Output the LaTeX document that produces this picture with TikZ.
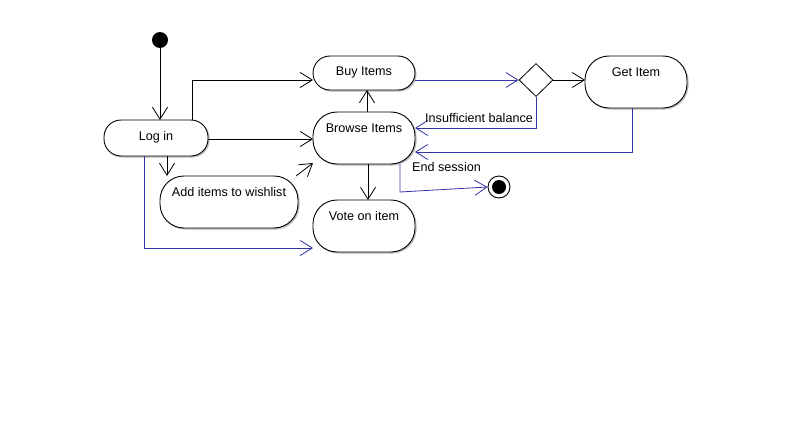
\documentclass[tikz,border=0pt]{standalone}
\usepackage{fontspec}
\setmainfont{Liberation Sans}
\usetikzlibrary{arrows.meta,shapes.geometric,calc}
\definecolor{flowblue}{RGB}{51,51,170}
\tikzset{
  act/.style={draw=black, fill=white, rounded corners=#1, line width=0.9pt,
    preaction={draw=black!25, fill=black!25, transform canvas={shift={(1.3pt,-1.3pt)}}}},
  act/.default=17pt,
  arr/.style={-{Straight Barb[length=12pt,width=15pt,line width=0.8pt]}, line width=0.8pt},
  bflow/.style={arr, draw=flowblue},
  lbl/.style={font=\fontsize{12.6}{14}\selectfont, inner sep=0pt}
}
\begin{document}
\begin{tikzpicture}[x=1pt,y=-1pt]
\useasboundingbox[fill=white] (0,0) rectangle (792,428);
% start
\node[circle, fill=black, minimum size=16pt, inner sep=0pt] (start) at (160,40) {};
% activities
\draw[act] (104,120) rectangle (208,156);
\node[lbl] (login) at (156,137) {Log in};
\coordinate (loginN) at (160,120);
\draw[act] (313,56) rectangle (415,90);
\node[lbl] (buy) at (364,72) {Buy Items};
\draw[act=24pt] (313,112) rectangle (415,164);
\node[lbl] (browse) at (364,128) {Browse Items};
\draw[act=24pt] (585,56) rectangle (687,108);
\node[lbl] (get) at (636,72) {Get Item};
\draw[act=24pt] (160,176) rectangle (298,228);
\node[lbl] (wish) at (229,192) {Add items to wishlist};
\draw[act=24pt] (313,200) rectangle (415,252);
\node[lbl] (vote) at (364,216) {Vote on item};
% decision
\node[diamond, draw=black, fill=white, line width=0.8pt, minimum width=34pt, minimum height=33pt, inner sep=0pt] (dec) at (536,80) {};
% end
\node[circle, draw=black, fill=white, line width=0.9pt, minimum size=22pt, inner sep=0pt] (endo) at (499,187) {};
\node[circle, fill=black, minimum size=14pt, inner sep=0pt] (endi) at (499,187) {};
% coordinates on activity borders
\coordinate (loginE) at (208,139);
\coordinate (loginS1) at (167,156);
\coordinate (loginS2) at (144,156);
\coordinate (loginT) at (192,120);
\coordinate (buyW) at (313,80);
\coordinate (buyS) at (367,90);
\coordinate (buyE) at (415,80);
\coordinate (browseW) at (313,139);
\coordinate (browseN) at (367,112);
\coordinate (browseS) at (368,164);
\coordinate (browseS2) at (400,164);
\coordinate (browseE1) at (415,128);
\coordinate (browseE2) at (415,152);
\coordinate (getW) at (585,80);
\coordinate (getS) at (632,108);
\coordinate (wishN) at (167,176);
\coordinate (voteN) at (368,200);
\coordinate (voteW) at (313,248);
\coordinate (wishA) at (296,176);
\coordinate (browseA) at (313,163);
% black connectors
\draw[arr] (start) -- (loginN);
\draw[arr] (loginT) |- (buyW);
\draw[arr] (loginE) -- (browseW);
\draw[arr] (browseN) -- (buyS);
\draw[arr] (loginS1) -- (wishN);
\draw[arr] (browseS) -- (voteN);
\draw[arr] (dec.east) -- (getW);
\draw[arr] (wishA) -- (browseA);
% blue connectors
\draw[bflow] (loginS2) |- (voteW);
\draw[bflow] (buyE) -- (dec.west);
\draw[bflow] (dec.south) |- (browseE1);
\draw[bflow] (getS) |- (browseE2);
\draw[bflow] (browseS2) -- (400,192) -- (endo.west);
% labels
\node[lbl, anchor=west] (insuf) at (425,118) {Insufficient balance};
\node[lbl, anchor=west] (endsess) at (412,167) {End session};
\end{tikzpicture}
\end{document}
